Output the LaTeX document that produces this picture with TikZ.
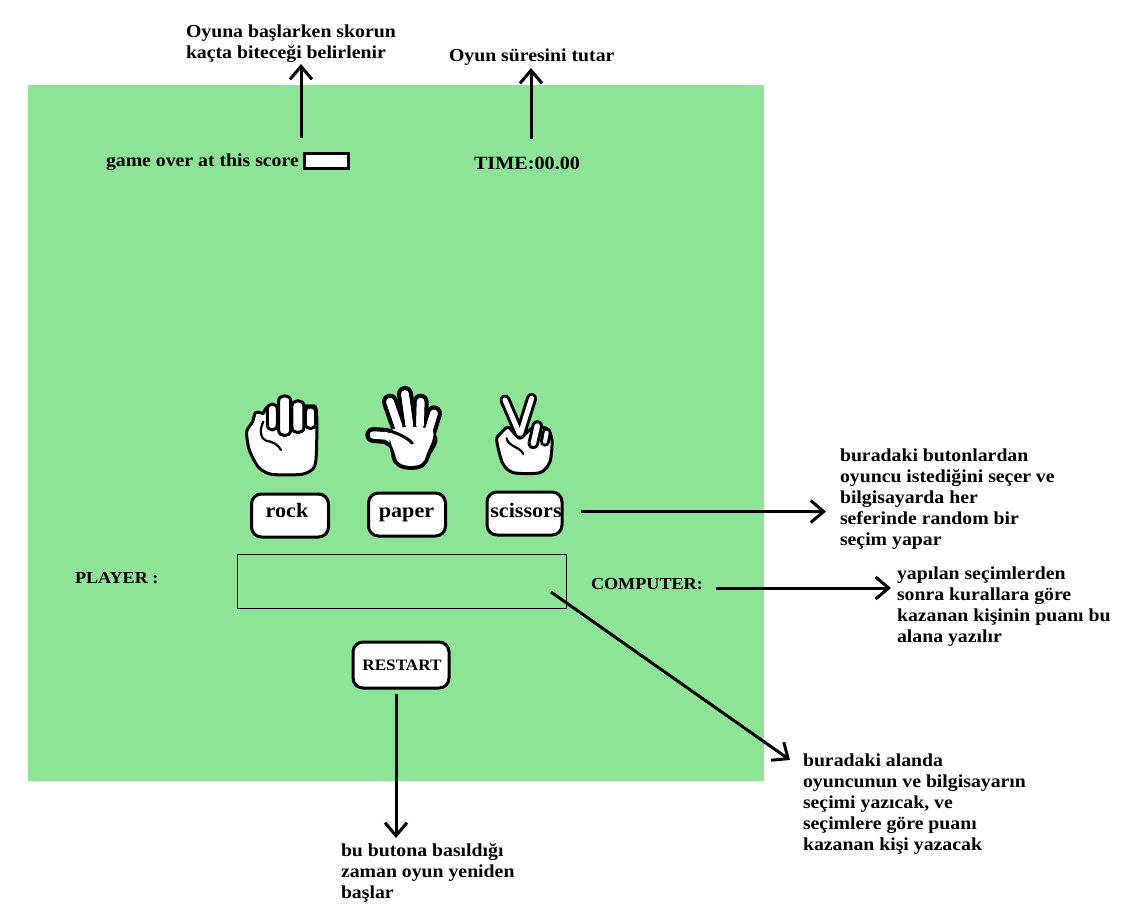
\documentclass[tikz,border=0pt]{standalone}
\usepackage{fontspec}
\setmainfont[FakeStretch=1.08]{Liberation Serif}
\usetikzlibrary{arrows.meta}
\definecolor{bggreen}{HTML}{8DE496}
\tikzset{
 x=1pt,y=-1pt,
 txt/.style={inner sep=0pt,outer sep=0pt,font=\bfseries\fontsize{18.3}{21}\selectfont,align=left,anchor=west},
 caps/.style={font=\bfseries\fontsize{16.8}{21}\selectfont},
 btntxt/.style={inner sep=0pt,outer sep=0pt,anchor=base,font=\bfseries\fontsize{20.5}{22}\selectfont},
 btn/.style={draw=black,fill=white,line width=3pt,rounded corners=10pt,inner sep=0pt},
 arr/.style={line width=3pt,-{Straight Barb[length=13pt,width=22pt,line width=3pt]}},
 hand/.style={draw=black,fill=white,line width=3pt,line join=round},
 crease/.style={draw=black,line width=2.2pt,line cap=round},
 fblack/.style={draw=black,line cap=round,line join=round},
 fwhite/.style={draw=white,line cap=round,line join=round}
}
\begin{document}
\begin{tikzpicture}
\useasboundingbox (0,0) rectangle (1121,908);
\fill[white] (0,0) rectangle (1121,908);
\node[fill=bggreen,minimum width=736pt,minimum height=696pt,inner sep=0pt,outer sep=0pt,anchor=north west] (panel) at (28,85) {};

% top notes
\node[txt] (noteScore) at (186,43.5) {Oyuna başlarken skorun\\kaçta biteceği belirlenir};
\node[txt] (noteTime) at (449,57.5) {Oyun süresini tutar};
\node[txt] (scoreLabel) at (106,162.5) {game over at this score};
\node[draw=black,fill=white,line width=3pt,minimum width=44pt,minimum height=15pt,inner sep=0pt,anchor=west] (scoreBox) at (303,161) {};
\node[txt,font=\bfseries\fontsize{18.7}{22}\selectfont] (timeLabel) at (474,163.5) {TIME:00.00};

% buttons
\node[btn,minimum width=77pt,minimum height=43pt] (rock) at (290,515.5) {};
\node[btn,minimum width=77pt,minimum height=43pt] (paper) at (407,514.5) {};
\node[btn,minimum width=75pt,minimum height=43pt] (scissors) at (524.5,513.5) {};
\node[btntxt] (rockT) at (287,517) {rock};
\node[btntxt] (paperT) at (406.5,517) {paper};
\node[btntxt] (scissorsT) at (526,517) {scissors};

% player row
\node[txt,caps] (player) at (75,578.5) {PLAYER :};
\node[draw=black,line width=0.9pt,minimum width=329pt,minimum height=54pt,inner sep=0pt,anchor=north west] (field) at (236.8,553.8) {};
\node[txt,caps] (computer) at (591,584.5) {COMPUTER:};
\node[btn,minimum width=96pt,minimum height=46pt] (restart) at (401,665) {};
\node[inner sep=0pt,outer sep=0pt,anchor=base,font=\bfseries\fontsize{15.9}{20}\selectfont] (restartT) at (402,670) {RESTART};

% right and bottom notes
\node[txt,anchor=north west] (noteButtons) at (840,449) {buradaki butonlardan\\oyuncu istediğini seçer ve\\bilgisayarda her\\seferinde random bir\\seçim yapar};
\node[txt,anchor=north west] (noteResult) at (897,567) {yapılan seçimlerden\\sonra kurallara göre\\kazanan kişinin puanı bu\\alana yazılır};
\node[txt,anchor=north west] (noteField) at (803,754) {buradaki alanda\\oyuncunun ve bilgisayarın\\seçimi yazıcak, ve\\seçimlere göre puanı\\kazanan kişi yazacak};
\node[txt,anchor=north west] (noteRestart) at (341,844) {bu butona basıldığı\\zaman oyun yeniden\\başlar};

% named ends of connectors
\coordinate (a1s) at (301,138); \coordinate (a1e) at (301,64);
\coordinate (a2s) at (531,139); \coordinate (a2e) at (531,68);
\coordinate (a3s) at (581,511.5); \coordinate (a3e) at (826,511.5);
\coordinate (a4s) at (716,588); \coordinate (a4e) at (891,588);
\coordinate (a5s) at (551,592); \coordinate (a5e) at (790,760);
\coordinate (a6s) at (396,694); \coordinate (a6e) at (396,838);
\draw[arr] (a1s) -- (a1e);
\draw[arr] (a2s) -- (a2e);
\draw[arr] (a3s) -- (a3e);
\draw[arr] (a4s) -- (a4e);
\draw[arr] (a5s) -- (a5e);
\draw[arr] (a6s) -- (a6e);

% hands (zoomed coordinates of the 3x crop)
\begin{scope}[shift={(230,380)},x=0.3333pt,y=-0.3333pt]
 % rock
 \draw[hand] plot[smooth cycle,tension=0.45] coordinates {(92,98) (76,98) (68,125) (50,155) (58,210) (86,262) (125,283) (215,283) (250,265) (259,225) (259,90) (235,78) (120,78) (100,100)};
 \foreach \a/\b/\t/\e in {112/142/72/150,146/182/47/167,186/222/62/158,226/257/80/146}{
  \draw[hand] (\a,\e-16) -- (\a,\t+16) .. controls (\a,\t-5) and (\b,\t-5) .. (\b,\t+16) -- (\b,\e-16) .. controls (\b,\e+5) and (\a,\e+5) .. (\a,\e-16) -- cycle;
 }
 \draw[crease] (100,125) .. controls (88,150) and (90,175) .. (108,182) .. controls (130,185) and (145,195) .. (153,210);
 % paper: black strokes first, then white ones, so that they merge
 \foreach \pw/\sty in {16/fblack,7.5/fwhite}{
  \draw[\sty,line width=\pw pt] (480,65) -- (506,140);
  \draw[\sty,line width=\pw pt] (525,42) -- (538,135);
  \draw[\sty,line width=\pw pt] (572,65) -- (570,135);
  \draw[\sty,line width=\pw pt] (612,100) -- (592,165);
  \draw[\sty,line width=\pw pt] (430,165) -- (470,168) -- (525,205);
 }
 \draw[draw=black,line width=8pt,line join=round] plot[smooth cycle,tension=0.6] coordinates {(500,170) (606,170) (590,222) (575,250) (545,258) (510,250) (496,225)};
 \fill[white] plot[smooth cycle,tension=0.6] coordinates {(485,150) (605,150) (590,222) (575,250) (545,258) (510,250) (496,225)};
 \foreach \pw/\sty in {7.5/fwhite}{
  \draw[\sty,line width=\pw pt] (480,65) -- (506,140);
  \draw[\sty,line width=\pw pt] (525,42) -- (538,135);
  \draw[\sty,line width=\pw pt] (572,65) -- (570,135);
  \draw[\sty,line width=\pw pt] (612,100) -- (592,165);
 }
 \draw[crease,line width=3pt] (478,152) .. controls (500,160) and (530,170) .. (547,190);
 % scissors
 \draw[hand] plot[smooth cycle,tension=0.45] coordinates {(835,142) (812,160) (800,180) (818,250) (850,278) (930,278) (960,245) (966,180) (950,145) (905,145) (870,175)};
 \foreach \pw/\sty in {11/fblack,5/fwhite}{
  \draw[\sty,line width=\pw pt] (825,60) -- (868,160);
  \draw[\sty,line width=\pw pt] (905,55) -- (872,160);
 }
 \foreach \pw/\sty in {11.5/fblack,5.5/fwhite}{
  \draw[\sty,line width=\pw pt] (922,138) -- (910,190);
 }
 \foreach \pw/\sty in {10/fblack,4/fwhite}{
  \draw[\sty,line width=\pw pt] (950,158) -- (945,185);
 }
 \draw[crease] (830,175) .. controls (835,200) and (870,200) .. (880,222);
\end{scope}
\end{tikzpicture}
\end{document}
